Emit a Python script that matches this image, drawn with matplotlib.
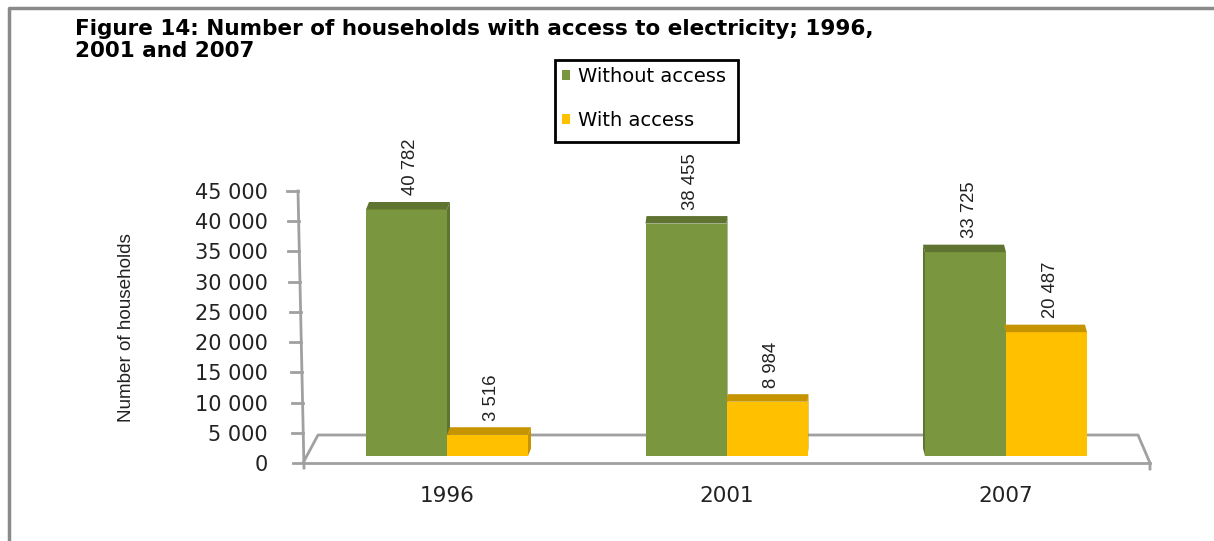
import numpy as np
import matplotlib
matplotlib.use('Agg')
import matplotlib.pyplot as plt
from matplotlib.patches import Patch, Polygon, Rectangle
from matplotlib.lines import Line2D

years = ['1996', '2001', '2007']
without_access = [40782, 38455, 33725]
with_access = [3516, 8984, 20487]
series_names = ['Without access', 'With access']
yticks = [0, 5000, 10000, 15000, 20000, 25000, 30000, 35000, 40000, 45000]
ytick_labels = ['0', '5 000', '10 000', '15 000', '20 000', '25 000',
                '30 000', '35 000', '40 000', '45 000']

GREEN = '#7a963f'
GREEN_TOP = '#5e7430'
YELLOW = '#ffc000'
YELLOW_TOP = '#c69400'
FLOOR = '#a0a0a0'
TXT = '#222222'
ARIAL = ['Liberation Sans', 'DejaVu Sans']

W, H = 1214, 541
fig = plt.figure(figsize=(W / 100, H / 100), dpi=100)
fig.patch.set_facecolor('white')

# axes placed in pixel terms
ax_l, ax_r, ax_t, ax_b = 300, 1150, 191, 463
ax = fig.add_axes([ax_l / W, 1 - ax_b / H, (ax_r - ax_l) / W, (ax_b - ax_t) / H])
px_per_x = 279.5
x0_px = 447
ax.set_xlim((ax_l - x0_px) / px_per_x, (ax_r - x0_px) / px_per_x)
ax.set_ylim(0, 45000)
ux = 1 / px_per_x            # data units per pixel (x)
uy = 45000 / (ax_b - ax_t)   # data units per pixel (y)

for s in ax.spines.values():
    s.set_visible(False)
ax.patch.set_alpha(0)

x = np.arange(len(years))
bw = 81 * ux
base = 7 * uy
depth_dx = [3, 1, -2]
depth_dy = 7.5

# floor
back_y = 28 * uy
ax.add_line(Line2D([(303 - x0_px) * ux, (318 - x0_px) * ux, (1138 - x0_px) * ux,
                    (1150 - x0_px) * ux, (1150 - x0_px) * ux],
                   [0, back_y, back_y, 0, -6 * uy], color=FLOOR, lw=2, clip_on=False))
ax.add_line(Line2D([(303 - x0_px) * ux, (1150 - x0_px) * ux], [0, 0],
                   color=FLOOR, lw=2, clip_on=False))

def draw_bars(xs, vals, color, top_color, label):
    bars = ax.bar(xs, vals, width=bw, bottom=base, align='edge', color=color,
                  edgecolor='none', zorder=3, label=label)
    for i, b in enumerate(bars):
        xl = b.get_x()
        xr = xl + b.get_width()
        yt = b.get_y() + b.get_height()
        dx = depth_dx[i] * ux
        dy = depth_dy * uy
        top = Polygon([[xl, yt], [xr, yt], [xr + dx, yt + dy], [xl + dx, yt + dy]],
                      closed=True, facecolor=top_color, edgecolor='none', zorder=4,
                      clip_on=False)
        ax.add_patch(top)
        if dx > 0:
            side = Polygon([[xr, b.get_y()], [xr, yt], [xr + dx, yt + dy], [xr + dx, b.get_y() + dy]],
                           closed=True, facecolor=top_color, edgecolor='none', zorder=2)
        else:
            side = Polygon([[xl, b.get_y()], [xl, yt], [xl + dx, yt + dy], [xl + dx, b.get_y() + dy]],
                           closed=True, facecolor=top_color, edgecolor='none', zorder=2)
        ax.add_patch(side)
        ax.annotate(f'{vals[i]:,}'.replace(',', ' '),
                    xy=(xl + b.get_width() / 2, yt), xytext=(3, 14 * 0.72),
                    textcoords='offset points', rotation=90, ha='center', va='bottom',
                    fontsize=13.3, family=ARIAL, color=TXT,
                    annotation_clip=False, zorder=5)

draw_bars(x - bw, without_access, GREEN, GREEN_TOP, series_names[0])
draw_bars(x, with_access, YELLOW, YELLOW_TOP, series_names[1])

# tilted value axis with tick marks
ax.set_yticks(yticks)
ax.set_yticklabels(ytick_labels, fontsize=15, color=TXT)
ax.tick_params(axis='y', length=0, pad=32 * 0.72)
axis_x = lambda v: 304 - 6 * v / 45000
ax.add_line(Line2D([(axis_x(45000) - ax_l) / (ax_r - ax_l), (axis_x(0) - ax_l) / (ax_r - ax_l)],
                   [1, -5 / (ax_b - ax_t)], transform=ax.transAxes,
                   color=FLOOR, lw=2, clip_on=False))
for v in yticks:
    xa = axis_x(v)
    ax.add_line(Line2D([(xa - 11 - ax_l) / (ax_r - ax_l), (xa - ax_l) / (ax_r - ax_l)],
                       [v / 45000, v / 45000], transform=ax.transAxes,
                       color=FLOOR, lw=2, clip_on=False))

ax.set_xticks(x)
ax.set_xticklabels(years, fontsize=15.5, color=TXT)
ax.tick_params(axis='x', length=0, pad=23 * 0.72)

ax.set_ylabel('Number of households', fontsize=13.6, family=ARIAL, color=TXT)
ax.yaxis.set_label_coords((135 - ax_l) / (ax_r - ax_l), (ax_b - 328) / (ax_b - ax_t))

# title
fig.text(75 / W, 1 - 19 / H,
         'Figure 14: Number of households with access to electricity; 1996,\n2001 and 2007',
         ha='left', va='top', fontsize=15.5, fontweight='bold', color='black',
         linespacing=1.12)

# legend box
fig.patches.append(Rectangle((555 / W, 1 - 142 / H), 183 / W, 82 / H,
                             transform=fig.transFigure, fill=False,
                             edgecolor='black', lw=2))
handles = [Patch(facecolor=GREEN, edgecolor='none'), Patch(facecolor=YELLOW, edgecolor='none')]
fig.legend(handles, series_names, loc='upper left',
           bbox_to_anchor=(558 / W, 1 - 63 / H), frameon=False, fontsize=14,
           handlelength=0.42, handleheight=0.42, handletextpad=0.4,
           labelspacing=1.3, borderpad=0.2, borderaxespad=0)

# outer frame
fig.lines.append(Line2D([9 / W, 9 / W, 1], [0, 1 - 8 / H, 1 - 8 / H],
                        transform=fig.transFigure, color='#8a8a8a', lw=2.5))

fig.savefig('out.png', dpi=100)
